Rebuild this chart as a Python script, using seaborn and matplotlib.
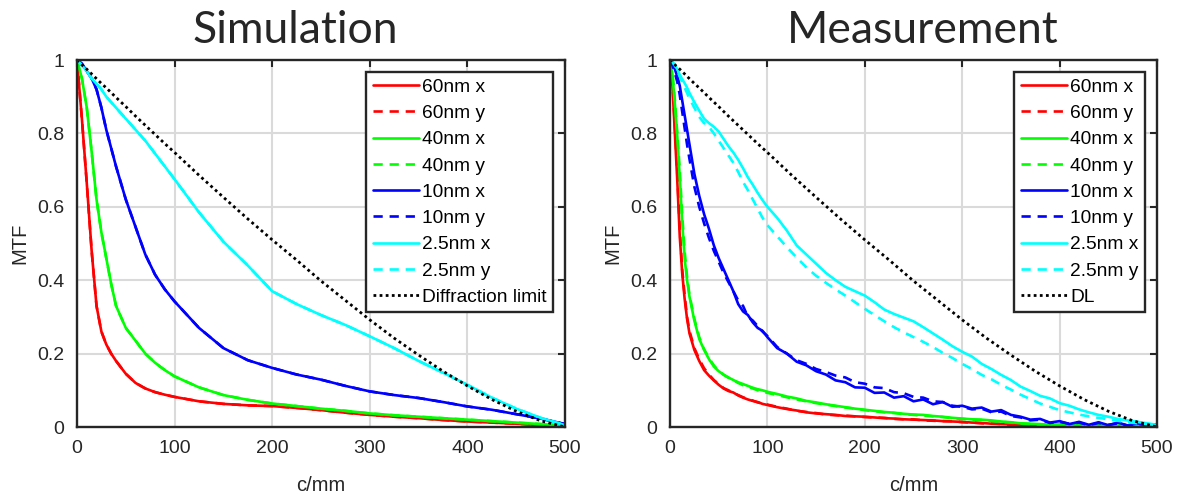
import matplotlib
matplotlib.use("Agg")
import matplotlib.pyplot as plt
import seaborn as sns

# ---------------- data ----------------
sim_f = [0, 5, 10, 15, 20, 25, 30, 35, 40, 50, 60, 70, 80, 90, 100, 125, 150, 175, 200,
         225, 250, 275, 300, 325, 350, 375, 400, 425, 450, 475, 500]
sim_60 = [1, 0.84, 0.665, 0.48, 0.33, 0.26, 0.225, 0.2, 0.18, 0.145, 0.12, 0.105, 0.095, 0.088,
          0.082, 0.07, 0.063, 0.059, 0.057, 0.052, 0.046, 0.039, 0.033, 0.028, 0.024, 0.019,
          0.015, 0.012, 0.009, 0.005, 0.002]
sim_40 = [1, 0.95, 0.87, 0.75, 0.62, 0.53, 0.46, 0.39, 0.33, 0.27, 0.235, 0.2, 0.175, 0.155,
          0.138, 0.108, 0.087, 0.074, 0.064, 0.057, 0.05, 0.044, 0.037, 0.032, 0.028, 0.024,
          0.02, 0.016, 0.012, 0.008, 0.004]
sim_10 = [1, 0.99, 0.97, 0.95, 0.92, 0.87, 0.81, 0.76, 0.71, 0.62, 0.545, 0.47, 0.415, 0.375,
          0.342, 0.27, 0.215, 0.182, 0.161, 0.143, 0.129, 0.112, 0.097, 0.087, 0.079, 0.068,
          0.056, 0.047, 0.035, 0.023, 0.008]
sim_2p5 = [1, 0.985, 0.97, 0.95, 0.935, 0.92, 0.9, 0.885, 0.87, 0.84, 0.81, 0.78, 0.745, 0.71,
           0.675, 0.585, 0.505, 0.44, 0.37, 0.335, 0.305, 0.278, 0.247, 0.215, 0.18, 0.148,
           0.115, 0.08, 0.05, 0.025, 0.005]
dl_mtf = [1, 0.987, 0.975, 0.962, 0.949, 0.936, 0.924, 0.911, 0.898, 0.873, 0.847, 0.822, 0.797,
          0.772, 0.748, 0.686, 0.626, 0.567, 0.51, 0.455, 0.398, 0.345, 0.292, 0.242, 0.196,
          0.152, 0.112, 0.075, 0.043, 0.017, 0.0]

meas_f = [0, 2.5, 5, 7.5, 10, 12.5, 15, 17.5, 20,
          25, 30, 35, 40, 45, 50, 55, 60, 65, 70, 75, 80, 85, 90, 95, 100,
          110, 120, 130, 140, 150, 160, 170, 180, 190, 200, 210, 220, 230, 240, 250,
          260, 270, 280, 290, 300, 310, 320, 330, 340, 350, 360, 370, 380, 390, 400,
          410, 420, 430, 440, 450, 460, 470, 480, 490, 500]
meas_60x = [1.0, 0.93, 0.8, 0.67, 0.52, 0.42, 0.35, 0.295, 0.255,
            0.21, 0.18, 0.155, 0.14, 0.127, 0.115, 0.105, 0.098, 0.094, 0.086, 0.08, 0.075,
            0.071, 0.068, 0.063, 0.06,
            0.054, 0.049, 0.045, 0.04, 0.037, 0.035, 0.033, 0.03, 0.029, 0.028, 0.026, 0.024,
            0.023, 0.021, 0.02, 0.019, 0.018, 0.016, 0.015, 0.014, 0.012, 0.011, 0.009, 0.008,
            0.007, 0.005, 0.005, 0.004, 0.003, 0.003, 0.003, 0.002, 0.003, 0.002, 0.002, 0.002,
            0.002, 0.001, 0.002, 0.001]
meas_60y = [1.0, 0.94, 0.82, 0.69, 0.54, 0.43, 0.36, 0.3, 0.262,
            0.215, 0.185, 0.16, 0.143, 0.128, 0.117, 0.106, 0.1, 0.093, 0.087, 0.081, 0.076,
            0.072, 0.067, 0.064, 0.061,
            0.055, 0.05, 0.044, 0.041, 0.038, 0.034, 0.032, 0.031, 0.029, 0.027, 0.026, 0.025,
            0.022, 0.021, 0.021, 0.018, 0.017, 0.016, 0.016, 0.013, 0.012, 0.01, 0.01, 0.008,
            0.006, 0.006, 0.004, 0.004, 0.003, 0.002, 0.003, 0.002, 0.002, 0.003, 0.002, 0.001,
            0.002, 0.002, 0.001, 0.001]
meas_40x = [1.0, 0.96, 0.88, 0.79, 0.68, 0.56, 0.46, 0.4, 0.355,
            0.29, 0.24, 0.21, 0.185, 0.165, 0.152, 0.143, 0.135, 0.128, 0.122, 0.117, 0.112,
            0.107, 0.103, 0.1, 0.096,
            0.09, 0.083, 0.078, 0.071, 0.067, 0.062, 0.058, 0.054, 0.05, 0.047, 0.044, 0.041,
            0.039, 0.036, 0.034, 0.033, 0.03, 0.028, 0.025, 0.023, 0.021, 0.02, 0.018, 0.015,
            0.013, 0.01, 0.009, 0.008, 0.006, 0.007, 0.005, 0.006, 0.004, 0.005, 0.003, 0.004,
            0.003, 0.004, 0.002, 0.002]
meas_40y = [1.0, 0.965, 0.89, 0.8, 0.7, 0.58, 0.48, 0.41, 0.36,
            0.295, 0.245, 0.212, 0.188, 0.168, 0.153, 0.142, 0.134, 0.127, 0.12, 0.114, 0.109,
            0.105, 0.1, 0.097, 0.093,
            0.087, 0.081, 0.075, 0.07, 0.065, 0.061, 0.057, 0.053, 0.05, 0.046, 0.043, 0.04,
            0.038, 0.035, 0.033, 0.031, 0.029, 0.027, 0.024, 0.022, 0.02, 0.019, 0.016, 0.014,
            0.012, 0.01, 0.008, 0.006, 0.007, 0.005, 0.006, 0.004, 0.005, 0.003, 0.004, 0.003,
            0.003, 0.004, 0.002, 0.002]
meas_10x = [1.0, 0.99, 0.975, 0.955, 0.93, 0.89, 0.85, 0.81, 0.77,
            0.69, 0.63, 0.58, 0.54, 0.495, 0.46, 0.43, 0.4, 0.37, 0.335, 0.315, 0.305,
            0.285, 0.27, 0.262, 0.245,
            0.215, 0.2, 0.178, 0.168, 0.152, 0.143, 0.127, 0.122, 0.108, 0.107, 0.093, 0.094,
            0.08, 0.084, 0.07, 0.075, 0.062, 0.068, 0.055, 0.058, 0.05, 0.053, 0.042, 0.046,
            0.033, 0.028, 0.02, 0.022, 0.012, 0.016, 0.008, 0.014, 0.006, 0.013, 0.005, 0.012,
            0.004, 0.01, 0.004, 0.008]
meas_10y = [1.0, 0.985, 0.965, 0.94, 0.905, 0.86, 0.815, 0.77, 0.73,
            0.655, 0.6, 0.555, 0.515, 0.48, 0.45, 0.42, 0.395, 0.37, 0.345, 0.33, 0.3,
            0.29, 0.275, 0.26, 0.248,
            0.218, 0.2, 0.182, 0.172, 0.158, 0.15, 0.14, 0.135, 0.122, 0.118, 0.108, 0.106,
            0.095, 0.092, 0.082, 0.08, 0.07, 0.068, 0.058, 0.055, 0.048, 0.05, 0.04, 0.042,
            0.03, 0.026, 0.018, 0.02, 0.011, 0.014, 0.009, 0.012, 0.005, 0.011, 0.006, 0.01,
            0.004, 0.009, 0.005, 0.007]
meas_2p5x = [1.0, 0.995, 0.985, 0.975, 0.96, 0.948, 0.937, 0.925, 0.91,
             0.885, 0.862, 0.84, 0.828, 0.818, 0.805, 0.785, 0.765, 0.748, 0.728, 0.705, 0.68,
             0.66, 0.638, 0.618, 0.6,
             0.57, 0.535, 0.495, 0.47, 0.445, 0.42, 0.4, 0.382, 0.37, 0.358, 0.34, 0.32,
             0.308, 0.298, 0.288, 0.272, 0.255, 0.238, 0.22, 0.205, 0.192, 0.172, 0.158, 0.142,
             0.128, 0.11, 0.098, 0.085, 0.078, 0.065, 0.058, 0.048, 0.04, 0.033, 0.028, 0.022,
             0.018, 0.014, 0.01, 0.006]
meas_2p5y = [1.0, 0.995, 0.985, 0.97, 0.955, 0.94, 0.925, 0.91, 0.895,
             0.87, 0.845, 0.828, 0.818, 0.8, 0.78, 0.76, 0.74, 0.72, 0.695, 0.668, 0.645,
             0.62, 0.595, 0.57, 0.55,
             0.52, 0.49, 0.462, 0.435, 0.412, 0.393, 0.375, 0.358, 0.34, 0.322, 0.305, 0.288,
             0.272, 0.258, 0.245, 0.232, 0.218, 0.202, 0.188, 0.172, 0.158, 0.142, 0.13, 0.115,
             0.102, 0.088, 0.076, 0.064, 0.055, 0.046, 0.04, 0.034, 0.029, 0.025, 0.021, 0.017,
             0.013, 0.01, 0.008, 0.005]

labels = ["60nm x", "60nm y", "40nm x", "40nm y", "10nm x", "10nm y", "2.5nm x", "2.5nm y"]
colors = ["#ff0000", "#ff0000", "#00ff00", "#00ff00", "#0000ff", "#0000ff", "#00ffff", "#00ffff"]
styles = ["-", "--", "-", "--", "-", "--", "-", "--"]
xticks = [0, 100, 200, 300, 400, 500]
yticks = [0, 0.2, 0.4, 0.6, 0.8, 1]
ytick_labels = ["0", "0.2", "0.4", "0.6", "0.8", "1"]

# ---------------- style ----------------
sns.set_style("white")
plt.rcParams["font.family"] = ["Liberation Sans", "DejaVu Sans"]
plt.rcParams["lines.dashed_pattern"] = [3.5, 2.6]
plt.rcParams["lines.dotted_pattern"] = [1, 1.2]

DARK = "#262626"
fig = plt.figure(figsize=(11.82, 4.98), dpi=100)
ax1 = fig.add_axes([77 / 1182, 71 / 498, 488 / 1182, 367 / 498])
ax2 = fig.add_axes([670 / 1182, 71 / 498, 487 / 1182, 367 / 498])

sim_series = [sim_60, sim_60, sim_40, sim_40, sim_10, sim_10, sim_2p5, sim_2p5]
meas_series = [meas_60x, meas_60y, meas_40x, meas_40y, meas_10x, meas_10y, meas_2p5x, meas_2p5y]

for ax, fgrid, series, dl_label, title, tx in [
        (ax1, sim_f, sim_series, "Diffraction limit", "Simulation", 0.448),
        (ax2, meas_f, meas_series, "DL", "Measurement", 0.52)]:
    for vals, lab, col, ls in zip(series, labels, colors, styles):
        sns.lineplot(x=fgrid, y=vals, ax=ax, color=col, linestyle=ls, linewidth=1.9,
                     label=lab, estimator=None, sort=False)
    sns.lineplot(x=sim_f, y=dl_mtf, ax=ax, color="black", linestyle=":", linewidth=2.0,
                 label=dl_label, estimator=None, sort=False)
    ax.set_xlim(0, 500)
    ax.set_ylim(0, 1)
    ax.set_xticks(xticks)
    ax.set_yticks(yticks)
    ax.set_yticklabels(ytick_labels)
    ax.grid(True, color="#dadada", linewidth=1.5)
    ax.set_axisbelow(True)
    for sp in ax.spines.values():
        sp.set_color(DARK)
        sp.set_linewidth(1.7)
        sp.set_visible(True)
    ax.tick_params(direction="in", length=5, width=1.5, top=True, right=True,
                   colors=DARK, labelsize=14, pad=9)
    ax.set_xlabel("c/mm", fontsize=14.5, color=DARK, labelpad=14)
    ax.set_ylabel("MTF", fontsize=14.5, color=DARK, labelpad=6)
    ax.set_title(title, fontsize=32, family=["Lato", "DejaVu Sans"], x=tx, pad=12)
    leg = ax.legend(loc="upper right", bbox_to_anchor=(0.976, 0.968), fontsize=13.8,
                    frameon=True, fancybox=False, framealpha=1, edgecolor=DARK,
                    handlelength=2.4, handletextpad=0.18, labelspacing=0.46,
                    borderpad=0.35, borderaxespad=0)
    leg.get_frame().set_linewidth(1.7)
    for t in leg.get_texts():
        t.set_color("black")

fig.savefig("out.png", dpi=100)
